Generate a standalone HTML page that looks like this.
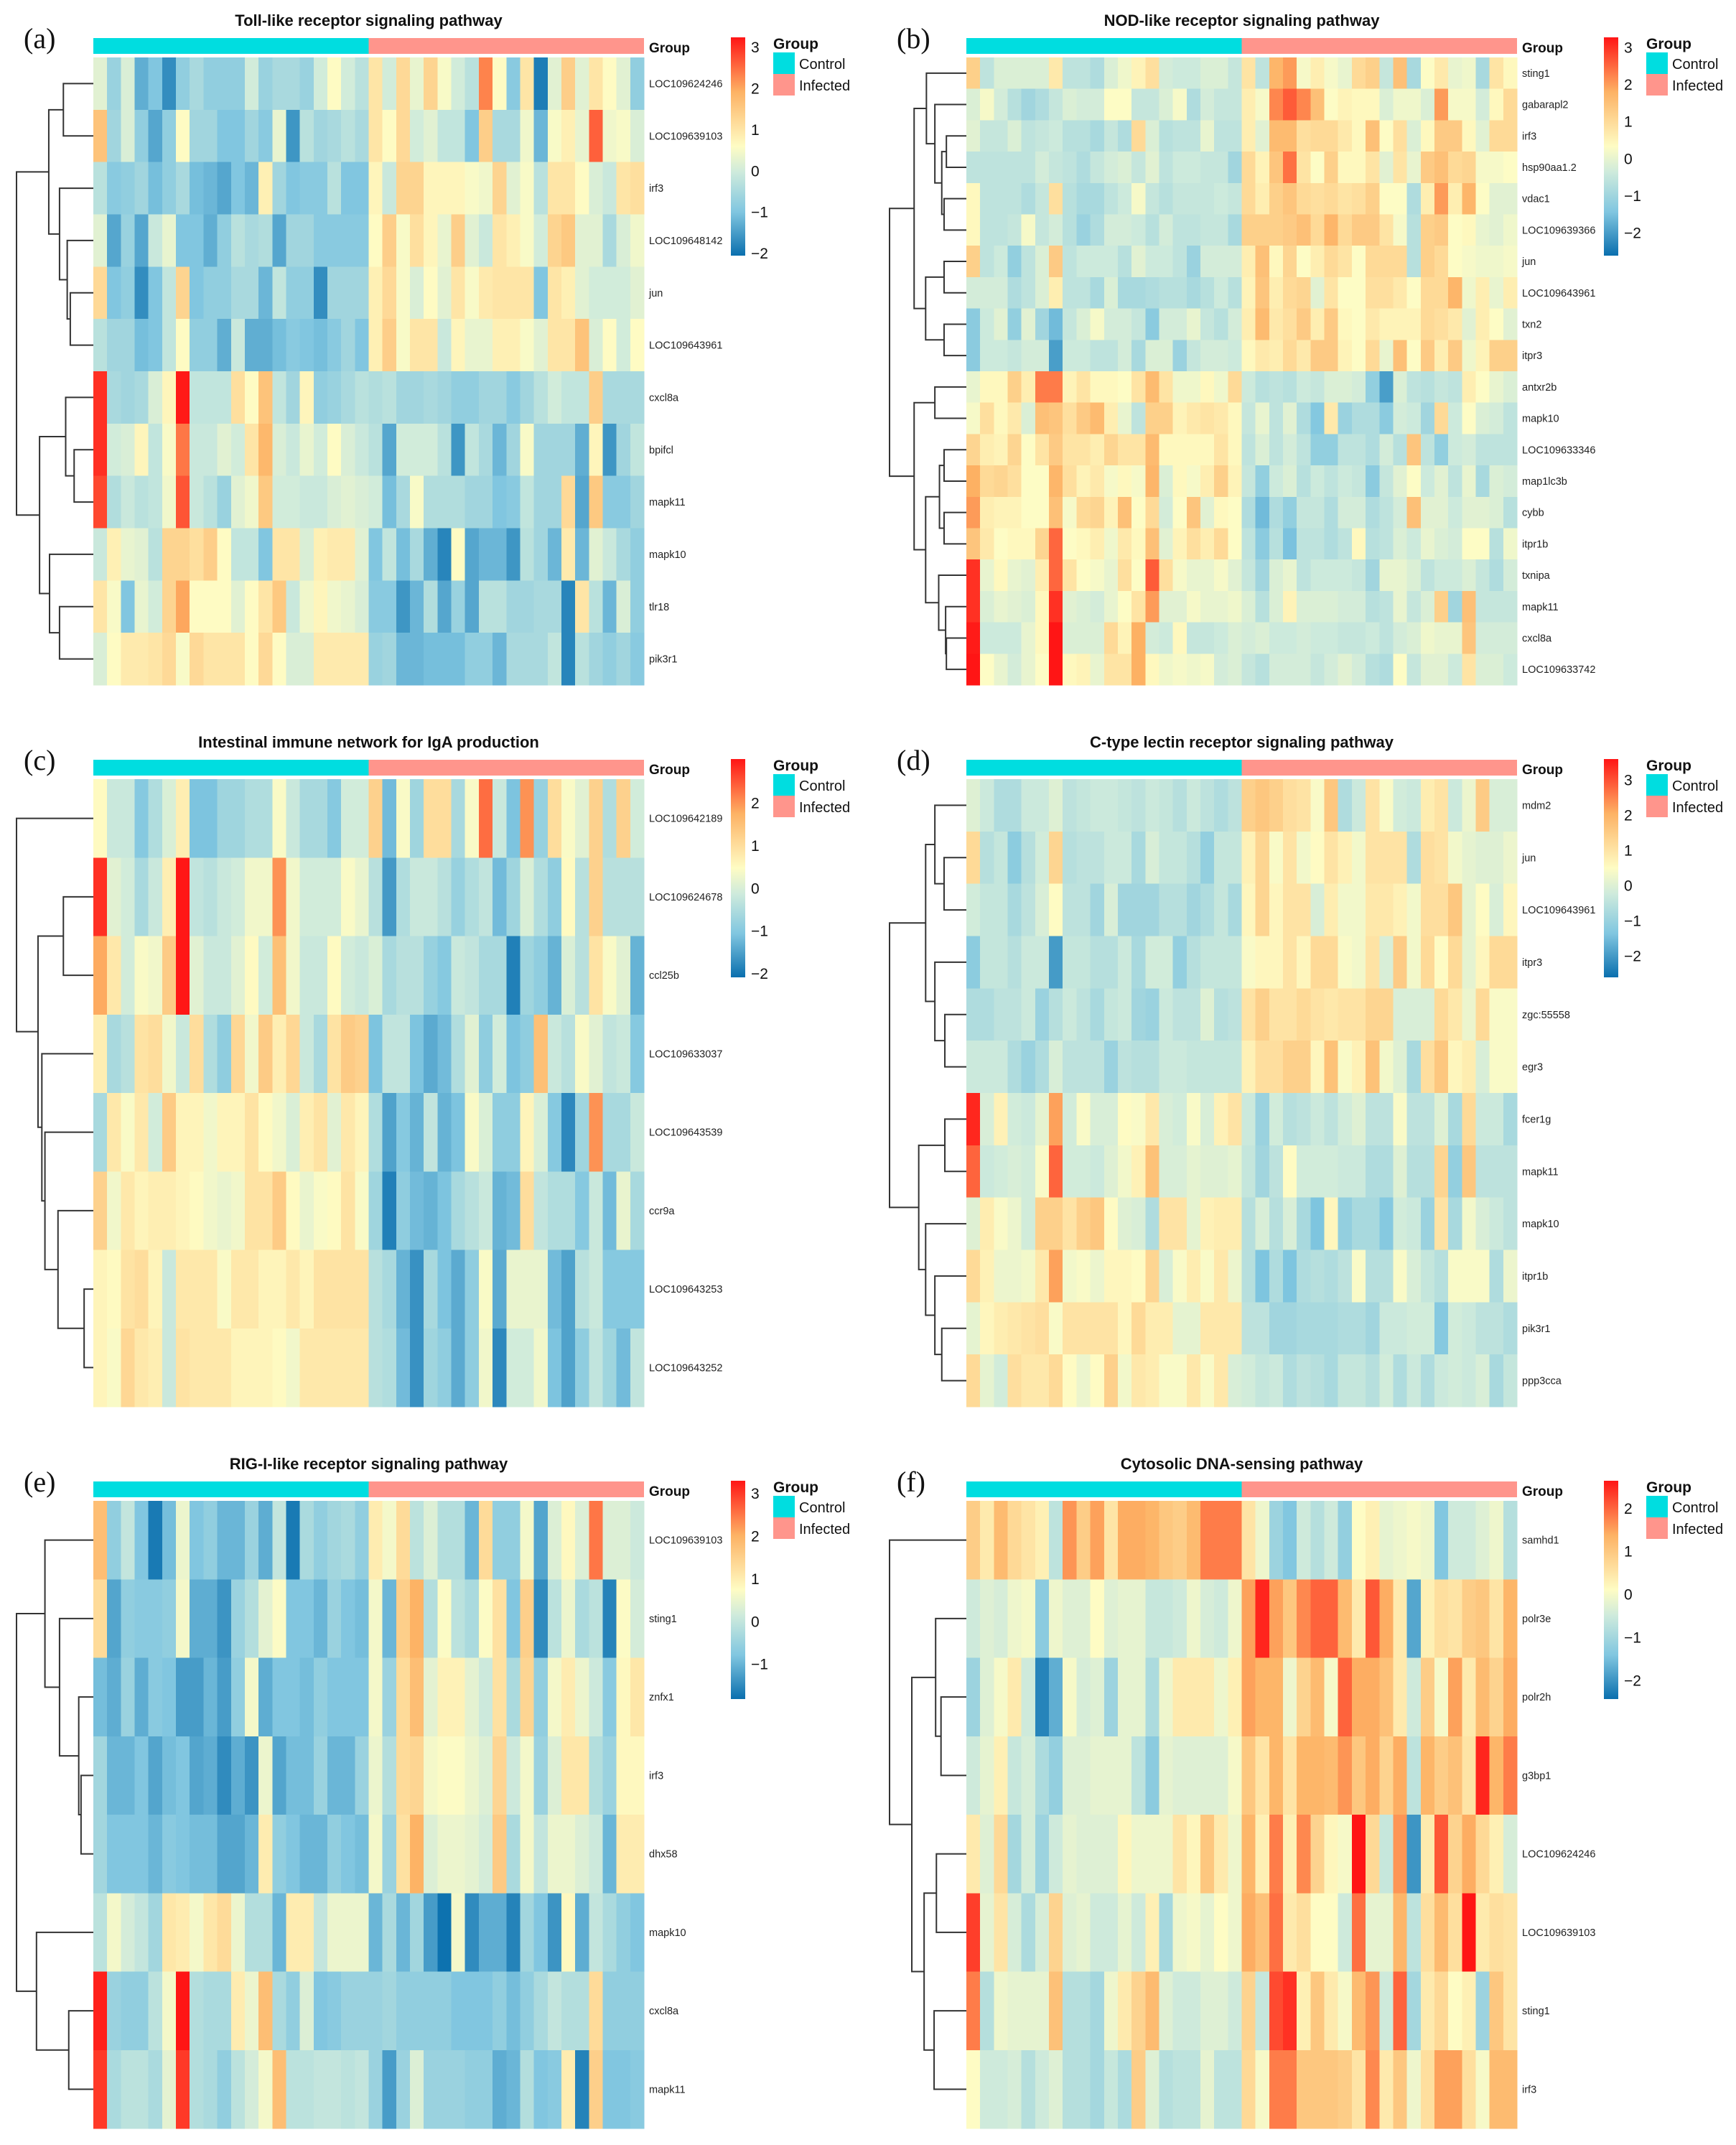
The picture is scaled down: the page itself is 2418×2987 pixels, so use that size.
<!DOCTYPE html>
<html><head><meta charset="utf-8"><title>Pathway heatmaps</title>
<style>
html,body{margin:0;padding:0;background:#fff;}
svg{display:block;}
text{font-family:"Liberation Sans",Arial,sans-serif;}
text.serif{font-family:"Liberation Serif","Times New Roman",serif;}
</style></head>
<body>
<svg id="fig" xmlns="http://www.w3.org/2000/svg" width="2418" height="2987" viewBox="0 0 2418 2987">
<defs><linearGradient id="cbgrad" x1="0" y1="1" x2="0" y2="0">
<stop offset="0" stop-color="#0a6fae"/><stop offset="0.2" stop-color="#80c6e0"/><stop offset="0.38" stop-color="#cdeadc"/><stop offset="0.5" stop-color="#fefcc4"/><stop offset="0.75" stop-color="#fdb264"/><stop offset="1" stop-color="#ff1515"/>
</linearGradient></defs>
</svg>
<script>
// ---------- Panel (a) ----------
const titleA = "Toll-like receptor signaling pathway";
const rowsA = ["LOC109624246","LOC109639103","irf3","LOC109648142","jun","LOC109643961","cxcl8a","bpifcl","mapk11","mapk10","tlr18","pik3r1"];
const dataA = [
[0.2,-0.7,0.1,-1.3,-1,-1.7,-0.8,-0.5,-0.8,-0.8,-0.8,0,-0.7,-0.5,-0.5,-0.7,0,0.6,0,-0.3, 1,0,1.2,0.3,1.3,0.5,0,-0.3,2.3,0.6,-0.9,1,-1.9,0.2,1.4,0.2,1,0.6,0.2,-0.8],
[1.6,-0.6,0.1,-0.8,-1.4,-0.8,0.6,-0.6,-0.6,-1,-1,-0.6,-0.9,0.3,-1.6,-0.3,-0.6,-0.5,-0.3,-0.5, 1,0.6,1.2,0,0.2,-0.2,-0.2,-1,1.4,-0.5,-0.5,0.4,-1.2,0.5,0.8,0.3,2.6,0.4,0.5,0.1],
[-0.3,-0.9,-0.8,-0.6,-1.1,-0.8,-0.5,-1.1,-1.2,-1.4,-1,-1.2,0.8,-0.6,-1,-0.9,-0.9,-0.3,-1,-1, 0.7,-0.1,1.3,1.3,0.7,0.7,0.7,0.5,0.4,1.3,0.2,0.5,-0.3,1,1,0.6,0.1,-0.1,1,1.1],
[0.2,-1.4,-0.7,-1.4,-0.1,0.3,-1,-1,-1.3,-0.8,-0.3,-0.5,-0.4,-1.4,-0.6,-0.6,-0.9,-0.9,-0.9,-0.9, 0.6,1.4,0.5,1.1,0.7,0.3,1.4,0.2,-0.1,1,0.8,0.5,0,1.3,1.5,0.2,0.2,-0.5,0.1,0.4],
[1.2,-1,-0.8,-1.7,-1,-0.2,1.3,-1,-0.8,-0.8,-0.5,-0.5,-1.2,-0.2,-0.8,-0.8,-1.7,-0.6,-0.6,-0.6, 0.8,1.2,0.5,0.1,0.6,0.2,1,0.5,0.9,1,1,1,-1,1,0.8,0.2,0,0,0,0.2],
[-0.3,-0.6,-0.6,-1.1,-1,-0.2,0.6,-0.8,-0.8,-1.3,-0.1,-1.3,-1.3,-1.1,-0.9,-1,-1.1,-0.9,-0.6,-1, 0.8,1.4,0.5,1,1,-0.1,0.7,0.3,0.3,0.8,0.8,0.5,0.2,1,1,1.6,0.1,0.6,0,0.6],
[3,-0.5,-0.6,-0.5,0.1,0.7,3.2,-0.2,-0.2,-0.2,1.1,0.6,1.6,-0.2,-0.6,0.7,-0.8,-0.7,-0.5,-0.3, -0.4,-0.3,-0.6,-0.6,-0.5,-0.6,-0.8,-0.8,-0.6,-0.6,-0.9,-0.6,-0.3,0,-0.2,-0.2,1.4,-0.5,-0.5,-0.5],
[3,0,0.1,0.7,-0.2,0.5,2.4,-0.1,-0.1,0.2,0,1,1.8,0.1,-0.1,0.3,0,0.6,0.1,-0.1, -0.3,-1.4,0,0,0,-0.3,-1.6,-0.2,-0.5,-1.2,-0.6,0.5,-0.6,-0.6,-0.6,-1.3,0.7,-1.6,-0.6,-0.2],
[2.8,-0.4,-0.1,-0.3,-0.2,0.4,2.7,-0.1,-0.3,-0.7,0.2,0.4,1.5,0,0,-0.1,-0.1,0.1,0.2,0.1, 0,-1.1,-0.5,0.5,-0.4,-0.4,-0.4,-0.6,-0.6,-1,-0.9,-0.2,-0.6,-0.6,1.2,-1.4,1.5,-0.9,-0.9,-0.6],
[-0.1,0.8,0.3,0.2,-0.3,1.3,1.3,1.1,1.4,0.6,-0.2,-0.2,-1,1,1,0.1,0.8,0.9,0.9,0.2, -1,-0.2,-1.1,-0.5,-1.3,-1.8,0.6,-1.4,-1.2,-1.2,-1.6,-0.3,-0.6,-1.2,0.9,-1.2,0.2,-0.1,-0.5,-0.8],
[1,0.5,-1,0.3,0,1.3,2,0.6,0.6,0.6,0.2,0.6,1,1.5,-0.1,0.4,0.7,0.4,0.3,0.1, -0.9,-0.9,-1.6,-1.2,-0.4,-1.4,-0.7,-1.4,-0.3,-0.3,-0.6,-0.6,-0.5,-0.5,-1.8,1,-0.3,-1.2,0.1,-0.8],
[0.1,0.6,0.9,0.9,1,1.2,0.5,1.2,1,1,1,0.6,1.2,0.6,0.1,0.1,0.9,0.9,0.9,0.9, -0.7,-0.6,-1.2,-1.2,-1.1,-1.1,-1.1,-0.8,-0.8,-1.2,-0.5,-0.5,-0.5,-0.2,-1.8,-0.3,-0.6,-0.8,-0.6,-0.9]
];
const rangeA = [-2.07, 3.23];
const ticksA = [3,2,1,0,-1,-2];
const treeA = [1,[0.58,[0.39,0,1],[0.44,2,[0.34,3,[0.3,4,5]]]],[0.7,[0.36,6,[0.25,7,8]],[0.57,9,[0.44,10,11]]]];

// ---------- Panel (b) ----------
const titleB = "NOD-like receptor signaling pathway";
const rowsB = ["sting1","gabarapl2","irf3","hsp90aa1.2","vdac1","LOC109639366","jun","LOC109643961","txn2","itpr3","antxr2b","mapk10","LOC109633346","map1lc3b","cybb","itpr1b","txnipa","mapk11","cxcl8a","LOC109633742"];
const dataB = [
[1.2,-0.6,-0.2,-0.2,-0.2,-0.2,0.7,-0.6,-0.6,-0.8,-0.2,0.1,0.5,0.9,-0.3,-0.4,-0.4,-0.2,-0.2,-0.5, 0.8,-0.6,1.7,2,0.2,0.6,0.2,0,1,1.2,-0.5,1.5,-0.9,0.3,0.7,0,0.1,-0.9,0.8,0.4],
[-0.2,0.2,-0.3,-0.7,-1,-0.8,-0.5,-0.2,-0.3,-0.3,0.3,0.3,-0.5,-0.5,-0.2,0.2,-0.8,-0.3,-0.5,-0.5, 0.6,0.2,2.2,2.6,2.2,1.5,0.3,0.5,0.4,0.4,-0.2,0.1,0.1,-0.2,2,0.2,0.2,-0.3,0.4,1],
[-0.1,-0.5,-0.5,-0.2,-0.6,-0.5,-0.4,-0.7,-0.7,-0.9,-0.5,-0.8,1,-0.2,-0.7,-0.6,-0.6,0,-0.6,-0.6, 0.6,-0.1,1.6,1.6,0.9,1,1,0.7,0.4,1.5,0.3,0.9,-0.2,0.4,1.3,1.3,0.4,-0.1,1,1],
[-0.6,-0.6,-0.6,-0.6,-0.6,-0.3,-0.5,-0.6,-0.8,-0.5,-0.3,-0.2,-0.5,-0.1,-0.6,-0.4,-0.4,-0.5,-0.5,-1, 1,0.5,1.4,2.4,0.8,0.3,1.2,0.4,0.4,0.8,-0.1,0.8,0,1.3,1.5,1,1.1,0.2,0.2,0.3],
[0.4,-0.6,-0.6,-0.6,-0.8,-0.5,0.9,-0.7,-0.9,-0.9,-0.6,-0.4,0.2,-0.5,-0.7,-0.5,-0.5,-0.5,-0.4,-0.5, 1,0.6,1.2,1.4,1,0.9,1,0.8,0.9,1.2,0.3,0.3,-0.8,0.6,2,0.6,1.7,0.3,-0.1,-0.1],
[0.4,-0.6,-0.6,-0.5,0.2,-0.5,-0.3,-0.7,-1.1,-0.8,-0.3,-0.3,-0.4,-0.7,-0.3,-0.6,-0.6,-0.5,-0.5,-0.9, 1.2,1.2,1.2,1.3,1.5,1,1.7,1,1.3,1.3,0.8,0.2,-0.7,1.2,1.3,0.3,0.4,0,-0.1,0.1],
[1.2,-0.6,-0.4,-1.2,-0.6,-0.2,1.3,-0.6,-0.4,-0.4,-0.4,-0.7,-0.1,-0.4,-0.4,-0.6,-1.1,-0.3,-0.3,-0.3, 0.6,1.5,0.4,1.1,0.3,0.6,1,0.8,0.3,1,1,1,-0.7,1.2,1,0.3,0.2,0.1,0.1,0.2],
[-0.3,-0.3,-0.3,-0.8,-0.6,-0.2,0.6,-0.6,-0.6,-0.9,-0.2,-0.9,-0.9,-0.8,-0.7,-0.7,-0.9,-0.7,-0.4,-0.7, 0.5,1.4,0.6,1,1.1,-0.1,0.8,0.3,0.3,0.9,0.9,0.7,0.3,1,1,1.7,0.1,0.6,0,0.6],
[-1.3,-0.4,-0.1,-1.2,-0.1,-1,-1.6,-0.5,-0.2,0.2,-0.3,-0.3,-0.5,-1.3,-0.3,-0.3,0,-0.5,-0.7,-0.3, 0.6,1.6,0.7,0.9,1.3,0.6,1.3,0.4,0.3,0.7,0.5,0.5,0.5,1,0.9,0.7,-0.1,0.6,0.3,-0.1],
[-1.3,-0.4,-0.4,-0.5,-0.3,-0.3,-2,-0.4,-0.4,-0.6,-0.6,-0.3,-0.9,-0.2,-0.2,-1.1,-0.5,-0.3,-0.3,-0.4, 0.4,0.7,0.6,1,0.7,1.3,1.3,0.5,0.3,1,0,1.5,0.3,1.3,0.6,1.3,0.1,0.5,1.2,1.2],
[0,0.4,0.4,1.2,0.6,2.3,2.3,0.5,0.8,0.4,0.4,0.3,0.8,1.6,0.8,0.1,0.1,0.4,0.1,1, -0.4,-0.7,-0.6,-0.7,-0.4,-0.5,-0.2,-0.2,-0.3,-1.2,-2,-0.2,-0.6,-0.7,-0.5,-0.6,0.6,0.3,0,-0.2],
[0.2,0.9,0.4,0.7,-0.2,1.5,1.4,0.9,1.3,1.6,0.6,0,-0.6,1.2,1.2,0.5,0.7,0.8,0.7,0.4, -0.5,0,-0.6,-0.1,-0.8,-1.4,0.7,-1.1,-0.8,-0.8,-1.3,-0.3,-0.4,-1,1,-0.4,0.3,-0.2,-0.3,-0.6],
[1.1,0.6,0.5,1.1,0.3,0.8,1.3,0.8,0.8,0.6,1.1,0.8,0.8,1.6,0.4,0.4,0.4,0.4,0.8,0.4, -0.6,-0.2,-0.6,-0.3,-0.6,-1.2,-1.2,-0.6,-0.6,-0.8,-0.3,-0.7,1.4,-0.6,-1.2,-0.4,-0.3,-0.6,-0.6,-0.6],
[1.8,1,1.1,0.9,0.3,0.3,1.7,0.9,0.5,0.7,0.2,0.4,0.2,1.7,-0.2,0.4,0.2,0.6,1.2,0.5, -0.5,-1.2,-0.4,-0.2,-0.7,-0.4,-0.6,-0.4,-0.5,-1.3,-0.5,-0.1,0.3,-0.4,-0.1,-0.6,0,-0.9,-0.2,-0.3],
[2,0.6,0.5,0.5,0.3,0.3,1.5,0.2,1,1.1,0.5,1.5,0.3,1,-0.3,0.3,1.4,-0.1,0.4,0.3, -0.8,-1.6,-0.8,-1.2,-0.5,-0.5,-0.8,-0.3,-0.3,-0.8,-0.6,-0.3,1.5,-0.1,-0.1,-0.4,-0.1,-0.1,-0.2,-0.7],
[1.4,0.7,0.3,0.4,0.4,1.1,2.5,0.3,0.4,0.6,0.1,0.7,0.4,1.5,-0.1,0.5,0.9,0.6,1,0.3, -0.6,-1.3,-0.7,-1.5,-0.6,-0.6,-0.8,-0.6,0.4,-0.7,-0.6,-0.2,-0.4,0,-0.2,-0.3,0.3,0.3,-0.7,0.1],
[3,0,0.4,0,-0.1,0.6,2.5,0.8,0.3,0.2,0,0.9,0.3,2.6,0.9,0.2,0,0,0.2,-0.1, -0.5,-1,-0.2,0,-0.6,-0.4,-0.4,-0.4,-0.5,-1,0,0,-0.2,-0.6,-0.4,-0.4,-0.2,-0.5,-0.8,-0.3],
[3,-0.2,0,-0.1,-0.2,0.4,3,-0.1,-0.2,-0.3,0,0.3,0.8,2,-0.1,-0.1,0.2,0,0,0.1, -0.2,-0.7,-0.2,0.5,-0.2,-0.2,-0.2,-0.3,-0.3,-0.7,-0.6,0,-0.5,-0.2,1.2,-1,1.5,-0.5,-0.5,-0.5],
[3.2,-0.4,-0.4,-0.4,0,0.4,3.4,-0.2,-0.2,-0.2,1,0.5,1.8,-0.3,-0.4,0.4,-0.5,-0.5,-0.4,-0.2, -0.3,-0.2,-0.4,-0.4,-0.3,-0.4,-0.4,-0.5,-0.5,-0.4,-0.6,-0.3,-0.2,0.1,0,0,1.4,-0.3,-0.3,-0.3],
[3.4,0.3,0,-0.3,0,0.3,3.4,0.4,0.5,0,0.8,0.8,1.8,0.4,0.1,0.2,0.1,0.2,-0.3,-0.2, -0.5,-0.7,-0.3,-0.3,-0.3,-0.5,-0.3,-0.1,-0.3,-0.7,-0.8,0.3,-0.5,-0.1,-0.1,-0.4,0.8,-0.2,-0.2,-0.4]
];
const rangeB = [-2.63, 3.26];
const ticksB = [3,2,1,0,-1,-2];
const treeB = [1,[0.68,[0.52,0,[0.41,1,[0.32,[0.26,2,3],[0.29,4,5]]]],[0.53,[0.29,6,7],[0.29,8,9]]],[0.68,[0.41,10,11],[0.53,[0.35,[0.29,12,13],[0.29,14,15]],[0.36,16,[0.27,17,[0.26,18,19]]]]]];

// ---------- Panel (c) ----------
const titleC = "Intestinal immune network for IgA production";
const rowsC = ["LOC109642189","LOC109624678","ccl25b","LOC109633037","LOC109643539","ccr9a","LOC109643253","LOC109643252"];
const dataC = [
[0.5,-0.2,-0.2,-1,-0.5,0,0.7,-1.1,-1.1,-0.7,-0.7,-0.5,-0.5,0.4,-0.2,-0.6,-0.6,-1,-0.1,-0.1, 1.2,-1.2,0.4,-0.7,1,1,-0.6,0.4,2.3,-0.2,-1.1,2,-0.8,1,0.4,0.1,1.2,-0.5,1.2,-0.1],
[2.8,0.1,-0.1,-0.6,-0.2,0.7,3,-0.3,-0.4,-0.2,-0.1,0.3,0.3,2,0.3,-0.1,-0.1,-0.1,0.4,0.2, -0.4,-1.6,-0.5,-0.2,-0.2,-0.4,-0.8,-0.5,-0.3,-1.2,-0.7,0,-0.5,-0.9,0.5,-0.4,1.2,-0.4,-0.4,-0.4],
[1.8,0.8,-0.1,0.4,0.3,1.3,3,0.1,-0.2,-0.2,0.1,0.5,-0.1,1.5,0.3,-0.2,-0.2,0.5,-0.1,-0.2, 0,-0.6,-0.4,-0.4,-0.8,-1,-0.2,-0.3,-0.6,-0.6,-1.9,-0.7,-0.9,-1.3,0,-0.4,0.9,0.4,0.1,-1.3],
[0.7,-0.6,-0.4,0.9,1,0.3,-0.2,1,-0.5,-0.9,1.1,0.3,1.3,0.7,1.1,-0.2,-0.6,0.9,1.3,1.2, -1.1,-0.3,-0.3,-1.1,-1.4,-1.2,-0.5,0.1,-0.9,-0.1,-1.1,-0.9,1.5,-0.2,-0.4,0.4,0.1,-0.3,-0.2,-1],
[-0.6,0.8,0.4,0.8,-0.1,1.3,0.6,0.6,0.3,0.6,0.6,0.9,0.5,0.3,0,0.7,0.9,0.1,0.8,0.6, -0.5,-1.5,-1,-1.3,-0.3,-1.3,-1.1,0.4,0,-0.9,-0.9,0.6,0,-1,-1.8,-0.7,2,-0.6,-0.6,-0.2],
[1.2,0.3,0.8,0.6,0.7,0.7,0.6,0.5,0.3,0.2,0.3,0.9,0.9,1.3,0.5,0.2,0.4,0.5,0.9,0.4, -0.7,-1.9,-0.9,-1.2,-1.3,-1.1,-0.6,-0.4,-0.2,-1.3,-1.2,1,-0.3,-0.5,-0.5,-1,-0.2,-1.2,0.2,-0.6],
[0.6,0.5,0.9,1,0.6,-0.2,0.8,0.8,0.8,0.4,0.8,0.8,0.6,0.6,0.8,0.6,0.9,0.9,0.9,0.9, -0.4,-0.6,-1.3,-1.7,-0.6,-1.1,-1.4,-0.9,0.4,-1.4,0.2,0.2,0.2,-1.2,-1.5,-0.4,-0.2,-1,-1,-1],
[0.6,0.4,1.1,0.8,0.7,-0.2,0.9,0.8,0.8,0.8,0.6,0.6,0.6,0.5,0.3,0.8,0.8,0.8,0.8,0.8, -0.4,-0.5,-1.2,-1.7,-0.7,-0.9,-1.4,-0.9,0.3,-1.8,-0.1,-0.1,0.3,-1.1,-1.5,-0.9,-0.3,-0.7,-1.2,-0.3]
];
const rangeC = [-2.1, 3.02];
const ticksC = [2,1,0,-1,-2];
const treeC = [1,0,[0.72,[0.39,1,2],[0.67,3,[0.63,4,[0.46,5,[0.12,6,7]]]]]];

// ---------- Panel (d) ----------
const titleD = "C-type lectin receptor signaling pathway";
const rowsD = ["mdm2","jun","LOC109643961","itpr3","zgc:55558","egr3","fcer1g","mapk11","mapk10","itpr1b","pik3r1","ppp3cca"];
const dataD = [
[0,-0.3,-0.7,-0.7,-0.3,-0.3,0,-0.5,-0.4,-0.3,-0.3,-0.4,-0.5,-0.3,-0.4,-0.6,-0.3,-0.5,-0.7,-0.5, 1.4,1.6,1.4,1.1,1,0.4,1.6,-0.7,-0.3,1,0.4,-0.2,-0.3,0.8,1,-0.3,0.2,1.5,-0.1,-0.1],
[1.2,-0.6,-0.4,-1.2,-0.6,-0.2,1.3,-0.6,-0.5,-0.5,-0.3,-0.3,-0.8,-0.1,-0.4,-0.4,-0.6,-1.1,-0.4,-0.4, 0.7,1.3,0.4,1,0.3,0.5,1,0.7,0.3,1,1,1,-0.7,1.1,1,0.3,0.1,0,0,0.2],
[-0.2,-0.4,-0.4,-0.8,-0.5,-0.1,0.5,-0.5,-0.5,-0.9,-0.1,-0.9,-0.9,-0.9,-0.6,-0.6,-0.9,-0.7,-0.4,-0.8, 0.6,1.3,0.6,1,1,-0.1,0.8,0.3,0.3,0.9,0.9,0.7,0.3,1.1,1.1,1.6,0.1,0.5,-0.1,0.6],
[-1.2,-0.4,-0.4,-0.6,-0.3,-0.3,-2,-0.4,-0.4,-0.6,-0.6,-0.3,-0.8,-0.2,-0.2,-1.1,-0.6,-0.4,-0.4,-0.4, 0.4,0.6,0.6,1,0.6,1.2,1.2,0.4,0.3,1,-0.1,1.5,0.3,1.2,0.5,1.2,0.1,0.6,1.2,1.2],
[-0.7,-0.7,-0.5,-0.5,-0.3,-1,-0.6,-0.3,-0.5,-0.8,-0.4,-0.3,-0.9,-1,-0.3,-0.5,-0.5,0,-0.6,-0.5, 1,1.4,1,1,1.2,1,0.9,1,1,1.3,1.3,-0.1,-0.1,-0.1,1.2,0.9,0.2,1.2,0.4,0.4],
[-0.3,-0.3,-0.3,-0.7,-1,-0.7,-0.1,-0.5,-0.5,-0.5,-1,-0.5,-0.6,-0.6,-0.3,-0.3,-0.4,-0.4,-0.4,-0.4, 0.7,1.1,1.1,1.4,1.4,0.6,1.7,0.4,0.7,1.7,0.3,0,-0.8,1.1,1.6,0.6,0.8,-0.1,0.4,0.4],
[3.4,-0.1,0.7,-0.2,-0.3,0.1,2.2,-0.2,0.4,-0.1,-0.1,0.5,0.4,0.9,-0.1,-0.2,0.4,-0.1,0.7,1, -0.3,-1,-0.2,-0.6,-0.5,-0.3,-0.5,-0.2,0,-0.5,-0.5,0.4,-0.5,-0.5,0,-0.8,1.2,-0.3,-0.3,-0.8],
[2.8,-0.3,-0.2,-0.1,-0.2,0.4,2.8,-0.2,-0.2,-0.3,0,0.3,0.7,1.7,-0.1,-0.1,0.1,0,0,0.1, -0.4,-0.9,-0.5,0.5,-0.2,-0.2,-0.2,-0.3,-0.3,-0.7,-0.7,0,-0.6,-0.6,1.3,-1.1,1.6,-0.5,-0.5,-0.5],
[0,0.8,0.4,0.2,-0.2,1.4,1.4,1,1.4,1.6,0.5,0,-0.1,-0.7,1,1,0.1,0.7,0.8,0.8, -0.6,-0.1,-0.6,-0.1,-0.8,-1.4,0.6,-1.1,-0.8,-0.8,-1.3,-0.2,-0.3,-1,1,-0.8,0.3,-0.1,-0.3,-0.5],
[1.2,0.7,0.2,0.2,0.3,0.9,2.2,0.3,0.4,0.2,0.6,0.6,0.5,1.3,-0.1,0.4,0.8,0.4,0.9,0.2, -0.6,-1.4,-0.7,-1.4,-0.7,-0.6,-0.7,-0.5,0.4,-0.6,-0.6,0.4,-0.1,-0.4,-0.6,0.4,0.4,0.4,-0.7,0.2],
[0.1,0.6,0.8,0.9,1,1.1,0.4,1,1,1,1,0.6,1.2,0.8,0.8,0.1,0.1,0.9,0.9,0.9, -0.5,-0.5,-0.9,-0.9,-0.8,-0.8,-0.8,-0.7,-0.7,-0.9,-0.3,-0.3,-0.2,-0.2,-1.3,-0.2,-0.3,-0.5,-0.5,-0.7],
[1.2,0.1,-0.2,1.1,0.9,0.9,1.2,0.5,0.2,0.5,1.4,0.3,0.9,0.8,0.4,0.4,0.9,0.4,0.9,-0.1, -0.2,-0.4,-0.3,-0.7,-0.5,-0.6,-0.8,-0.4,-0.4,-0.6,-0.2,-0.7,-0.3,-0.7,-0.3,-0.2,-0.3,-0.1,-0.8,-0.4]
];
const rangeD = [-2.62, 3.58];
const ticksD = [3,2,1,0,-1,-2];
const treeD = [1,[0.53,[0.41,0,[0.29,1,2]],[0.41,3,[0.28,4,5]]],[0.62,[0.28,6,7],[0.53,8,[0.41,9,[0.32,10,11]]]]];

// ---------- Panel (e) ----------
const titleE = "RIG-I-like receptor signaling pathway";
const rowsE = ["LOC109639103","sting1","znfx1","irf3","dhx58","mapk10","cxcl8a","mapk11"];
const dataE = [
[1.8,-0.6,0,-0.8,-1.7,-0.9,0.5,-0.8,-0.6,-1,-1,-0.5,-1.1,0,-1.7,-0.3,-0.6,-0.4,-0.3,-0.6, 1,0.6,1.3,-0.1,0.3,-0.2,-0.2,-1,1.3,-0.6,-0.6,0.6,-1.2,0.3,0.8,0.3,2.5,0.3,0.3,0.1],
[1.3,-1.2,-0.6,-0.7,-0.7,-0.6,0.6,-1.1,-1.1,-1.4,-0.5,-0.2,0.4,0.7,-0.8,-0.8,-1,-0.5,-0.8,-0.9, 0.6,-1,1.5,2,-0.2,0.7,-0.1,-0.3,0.7,1.2,-0.8,1.5,-1.5,-0.1,0.5,-0.3,-0.1,-1.6,0.7,0.2],
[-0.9,-1.1,-0.5,-1.1,-0.7,-0.8,-1.3,-1.3,-1,-1.3,-0.6,0.6,-1.1,-0.8,-0.8,-0.9,-0.6,-0.8,-0.8,-0.8, 0.6,-0.5,1.3,1.8,0.4,0.9,0.9,0.4,0.1,1.2,-0.3,1.4,-0.6,0.6,1,0.5,0.1,-0.7,0.8,1.1],
[-0.4,-1,-1,-0.8,-1.2,-0.9,-0.8,-1.2,-1.1,-1.5,-1.1,-1.4,0.5,-1.2,-0.9,-0.9,-0.5,-1,-1,-0.5, 0.5,-0.2,1.3,1.4,0.6,0.7,0.7,0.5,0.3,1.4,0.1,0.6,-0.5,0.3,1.1,1.1,-0.2,-0.5,0.8,0.8],
[-0.4,-0.8,-0.8,-0.8,-1,-0.7,-0.8,-0.9,-0.9,-1.2,-1.2,-1,1,-0.6,-0.8,-1,-1,-0.6,-0.8,-0.9, 0.6,-0.5,1.2,2,0.3,0.5,0.5,0.4,0.2,1.6,-0.3,0.6,0,0.5,0.5,0.3,0.1,-1,1,1],
[-0.1,0.6,0.2,0,-0.4,1.1,1,0.6,1.1,1.3,0.5,-0.2,-0.2,-1,1,1,0,0.5,0.5,0.5, -1,-0.3,-1,-0.4,-1.3,-1.8,0.6,-1.5,-1.1,-1.1,-1.6,-0.4,-0.8,-1.4,0.8,-1.1,0,-0.3,-0.6,-0.8],
[3.2,-0.5,-0.6,-0.6,-0.1,0.6,3.5,-0.2,-0.3,-0.3,1,0.5,1.8,-0.3,-0.6,0.3,-0.8,-0.7,-0.5,-0.5, -0.5,-0.4,-0.6,-0.6,-0.6,-0.6,-0.8,-0.8,-0.8,-0.6,-0.9,-0.6,-0.3,0,-0.2,-0.2,1.3,-0.6,-0.6,-0.6],
[3,-0.3,-0.1,-0.1,-0.3,0.4,3,-0.2,-0.3,-0.6,-0.1,0.2,0.6,1.8,-0.1,-0.1,0,0,-0.1,0, -0.5,-1.3,-0.5,0.3,-0.5,-0.5,-0.5,-0.6,-0.6,-1.1,-1,-0.2,-0.8,-0.7,1,-1.6,1.5,-0.8,-0.8,-0.7]
];
const rangeE = [-1.83, 3.29];
const ticksE = [3,2,1,0,-1];
const treeE = [1,[0.63,0,[0.44,1,[0.19,2,[0.16,3,4]]]],[0.74,5,[0.32,6,7]]];

// ---------- Panel (f) ----------
const titleF = "Cytosolic DNA-sensing pathway";
const rowsF = ["samhd1","polr3e","polr2h","g3bp1","LOC109624246","LOC109639103","sting1","irf3"];
const dataF = [
[0.9,0.4,1.2,0.7,0.5,0.3,-0.7,1.6,0.9,1.5,0.5,1.4,1.4,1.3,1,0.9,1.2,1.8,1.8,1.8, 0.5,-0.1,-1.1,-1.4,-0.5,-0.8,-0.5,-1.2,0.1,0.3,-0.2,-0.1,0,-0.1,-1.4,-0.5,-0.5,-0.3,-0.1,-0.8],
[-0.5,-0.3,-0.4,-0.1,0,-1.3,-0.1,-0.3,-0.3,0.1,-0.3,-0.2,-0.2,-0.6,-0.6,-0.5,-0.1,-0.4,-0.5,-0.1, 1.5,2.5,1.5,1,1.7,2,2,1.2,0.4,2.1,1.4,0.4,-1.8,0.3,0.6,0.5,0.9,1,0.5,1.3],
[-1.1,-0.3,0,0.4,-0.5,-2.2,-1.7,0,-0.4,-0.3,-1.1,-0.2,-0.2,-0.9,-0.1,0.4,0.4,0.4,-0.1,0.3, 1.5,1.3,1.3,-0.1,0.8,1.2,0,2,1.4,1.4,1.1,0.4,-0.5,0.9,0,1.5,0.4,1.2,0.8,1.4],
[-0.5,-0.2,0.3,-0.6,-0.4,-0.9,-1.2,-0.3,-0.3,-0.2,-0.2,-0.2,-0.7,-1.3,-0.2,-0.3,-0.3,-0.3,-0.3,0, 1,0.5,1.3,0.5,1.3,1.3,1.2,1.6,1,1.4,0.8,1.4,-0.7,1.3,0.9,1.1,0.5,2.5,1.3,1.8],
[0.4,-0.3,0.7,-1,-0.4,-1.1,-0.5,-0.2,-0.3,-0.3,-0.3,0.2,-0.1,-0.1,-0.1,0.5,0.2,1,0.4,-0.1, 1.3,0.3,1.8,0.3,1.7,0.8,0.2,0,2.8,0.7,-0.6,1.6,-2,0.4,2.1,0.8,1.4,0.7,0.3,-0.4],
[2.3,-0.2,0.5,-0.4,-0.9,-0.4,0.8,-0.3,-0.2,-0.5,-0.5,-0.2,-0.5,0.3,-1,-0.1,0,-0.2,0.1,-0.1, 1.4,1.1,1.9,0.4,0.6,0.1,0.1,-0.5,1.9,-0.2,-0.2,1.3,-0.7,0.6,1.2,0.6,3,0.4,0.6,0.5],
[1.8,-0.8,-0.1,-0.2,-0.2,-0.2,1.1,-0.8,-0.8,-1,-0.1,0.4,0.8,1.2,-0.3,-0.5,-0.5,-0.3,-0.3,-0.5, 0.8,-0.6,2.2,2.4,0.3,1,0.4,0,1.2,1.6,-0.5,2,-1,0.4,0.7,0.1,0.3,-1.1,1,0.5],
[0.1,-0.5,-0.5,-0.4,-0.8,-0.5,-0.3,-0.8,-0.8,-1,-0.6,-0.9,0.9,-0.3,-0.8,-0.7,-0.7,-0.2,-0.7,-0.7, 0.7,0,1.8,1.8,1,1,1,0.9,0.5,1.7,0.4,1,-0.1,0.6,1.5,1.5,0.6,0,1.2,1.2]
];
const rangeF = [-2.44, 2.63];
const ticksF = [2,1,0,-1,-2];
const treeF = [1,0,[0.71,[0.4,1,[0.33,2,3]],[0.55,[0.39,4,5],[0.42,6,7]]]];

const groupNames = ["Control","Infected"];
const groupSizes = [20,20];

// ---------- rendering ----------
const NS = "http://www.w3.org/2000/svg";
const svg = document.getElementById("fig");
const STOPS = [[0,[10,111,174]],[0.2,[128,198,224]],[0.38,[205,234,220]],[0.5,[254,252,196]],[0.75,[253,178,100]],[1,[255,21,21]]];
const GROUP_COLORS = ["#00dde0","#ff958c"];
function colorOf(v, r){
  let t = (v - r[0])/(r[1]-r[0]); t = Math.max(0, Math.min(1, t));
  for (let i=1;i<STOPS.length;i++){
    if (t <= STOPS[i][0]){
      const a = STOPS[i-1], b = STOPS[i]; const f = (t-a[0])/(b[0]-a[0]);
      const c = a[1].map((x,k)=>Math.round(x+(b[1][k]-x)*f));
      return "rgb("+c.join(",")+")";
    }
  }
  return "rgb(255,21,21)";
}
function mk(tag, attrs, parent){
  const el = document.createElementNS(NS, tag);
  for (const k in attrs) el.setAttribute(k, attrs[k]);
  (parent||svg).appendChild(el);
  return el;
}
function txt(str, attrs, parent){ const t = mk("text", attrs, parent); t.textContent = str; return t; }

function drawPanel(letter, title, rows, data, range, ticks, tree, ox, oy){
  const g = mk("g", {transform:"translate("+ox+","+oy+")"});
  
  
  const HX0 = 130, HX1 = 897, HY0 = 80, HY1 = 954;
  const nCol = data[0].length, nRow = rows.length;
  const cw = (HX1-HX0)/nCol, rh = (HY1-HY0)/nRow;
  const xScale = j => HX0 + j*cw;
  const yScale = i => HY0 + i*rh;

  const lab = txt("("+letter+")", {x:33, y:67, "font-size":40, "class":"serif", fill:"#111"}, g);
  
  
  const tt = txt(title, {x:(HX0+HX1)/2, y:36, "font-size":22, "font-weight":"bold", "text-anchor":"middle", fill:"#111"}, g);
  
  

  let start = 0;
  groupSizes.forEach((n, gi) => {
    const r = mk("rect", {x:xScale(start), y:53, width:n*cw, height:22, fill:GROUP_COLORS[gi]}, g);
    
    
    start += n;
  });
  const gl = txt("Group", {x:HX1+7, y:73, "font-size":19, "font-weight":"bold", fill:"#111"}, g);
  
  

  const cells = mk("g", {"shape-rendering":"crispEdges"}, g);
  
  
  data.forEach((row, i) => {
    row.forEach((v, j) => {
      const c = mk("rect", {x:xScale(j), y:yScale(i), width:cw+0.6, height:rh+0.6, fill:colorOf(v, range)}, cells);
      
      
    });
  });
  rows.forEach((name, i) => {
    const t = txt(name, {x:HX1+7, y:yScale(i)+rh/2+5, "font-size":14.5, fill:"#222"}, g);
    
    
  });

  const DX0 = 23;
  const hx = h => HX0 - h*(HX0-DX0);
  const dg = mk("g", {stroke:"#333", "stroke-width":2, fill:"none"}, g);
  
  
  function walk(node){
    if (typeof node === "number") return {y: yScale(node)+rh/2, x: HX0};
    const a = walk(node[1]), b = walk(node[2]);
    const x = hx(node[0]);
    const p = mk("path", {d:"M"+a.x+","+a.y+"H"+x+"V"+b.y+"H"+b.x}, dg);
    
    
    return {y:(a.y+b.y)/2, x:x};
  }
  walk(tree);

  const CB0 = 52, CB1 = 356;
  const cy = v => CB0 + (range[1]-v)/(range[1]-range[0])*(CB1-CB0);
  const cb = mk("rect", {x:1018, y:CB0, width:20, height:CB1-CB0, fill:"url(#cbgrad)"}, g);
  
  
  ticks.forEach(v => {
    const t = txt(v<0 ? "\u2212"+Math.abs(v) : String(v), {x:1046, y:cy(v)+8, "font-size":21, fill:"#111"}, g);
    
    
  });

  const lg = mk("g", {}, g);
  
  
  const lt = txt("Group", {x:1077, y:68, "font-size":21, "font-weight":"bold", fill:"#111"}, lg);
  
  
  groupNames.forEach((nm, gi) => {
    const s = mk("rect", {x:1077, y:73+gi*30, width:30, height:30, fill:GROUP_COLORS[gi]}, lg);
    
    
    const t = txt(nm, {x:1113, y:96+gi*30, "font-size":20, fill:"#111"}, lg);
    
    
  });
}

drawPanel("a", titleA, rowsA, dataA, rangeA, ticksA, treeA, 0, 0);
drawPanel("b", titleB, rowsB, dataB, rangeB, ticksB, treeB, 1216, 0);
drawPanel("c", titleC, rowsC, dataC, rangeC, ticksC, treeC, 0, 1005);
drawPanel("d", titleD, rowsD, dataD, rangeD, ticksD, treeD, 1216, 1005);
drawPanel("e", titleE, rowsE, dataE, rangeE, ticksE, treeE, 0, 2010);
drawPanel("f", titleF, rowsF, dataF, rangeF, ticksF, treeF, 1216, 2010);
</script>
</body></html>
